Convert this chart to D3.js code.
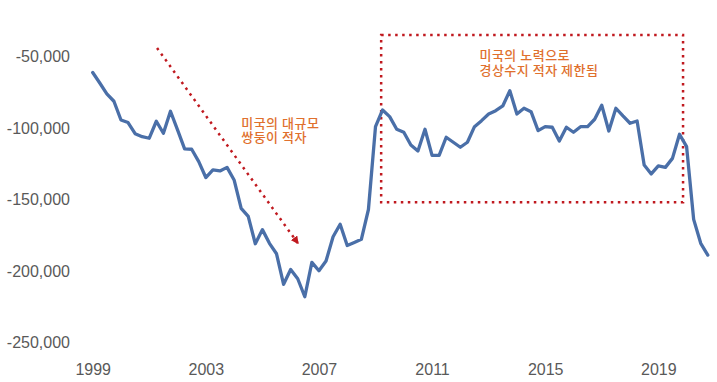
<!DOCTYPE html>
<html>
<head>
<meta charset="utf-8">
<script src="https://cdn.jsdelivr.net/npm/d3@7"></script>
<style>
  body { margin: 0; background: #fff; }
  #chart { width: 717px; height: 382px; }
</style>
</head>
<body>
<div id="chart"></div>
<script>
const width = 717;
const height = 382;

// quarters 1999Q1 - 2020Q4
const years = d3.range(1999, 2021);
const quarters = years.flatMap(y => [1, 2, 3, 4].map(q => `${y}Q${q}`));

// current account balance (quarterly)
const values = [
  -61100, -68400, -76000, -81200, -94300, -96100, -103900, -106000,
  -107100, -95200, -103600, -88200, -101300, -114600, -114800, -123500,
  -134600, -129300, -130000, -127500, -136300, -156200, -161800, -181000,
  -171100, -180700, -188000, -209400, -199000, -205500, -218100, -194000,
  -199900, -193100, -176100, -167300, -182200, -180100, -177900, -157000,
  -99000, -87300, -92000, -100800, -102900, -111800, -116000, -100800,
  -119100, -119100, -106400, -109900, -113400, -109900, -99000, -94800,
  -90100, -87800, -84500, -73800, -90100, -86100, -88500, -101800,
  -99000, -99400, -109000, -99400, -102900, -99000, -99000, -93800,
  -84000, -102000, -86100, -91500, -96600, -95000, -125800, -132100,
  -126500, -127500, -121200, -104300, -113000, -163900, -180700, -188900
];

const yTicks = [-250000, -200000, -150000, -100000, -50000];
const xTickLabels = ["1999", "2003", "2007", "2011", "2015", "2019"];

// annotations in data units (quarter index, value)
const arrowNote = { from: [9.1, -43900], to: [29.0, -180500] };
const boxNote = { i0: 40.8, i1: 83.5, v0: -34800, v1: -152000 };
const textNotes = [
  { lines: ["미국의 대규모", "쌍둥이 적자"], i: 21.0, v: -100000, lh: 14 },
  { lines: ["미국의 노력으로", "경상수지 적자 제한됨"], i: 54.7, v: -52300, lh: 15 }
];

const svg = d3.select("#chart")
  .append("svg")
  .attr("width", width)
  .attr("height", height)
  .style("display", "block");

const x = d3.scaleLinear()
  .domain([0, quarters.length - 1])
  .range([92.7, 707.8]);

const y = d3.scaleLinear()
  .domain([-250000, -50000])
  .range([342.3, 56.7]);

const fmt = d => d3.format(",")(d).replace("\u2212", "-");

// Y axis
const yAxis = svg.append("g")
  .attr("transform", "translate(70,0)")
  .call(d3.axisLeft(y).tickValues(yTicks).tickFormat(fmt).tickSize(0).tickPadding(0));
yAxis.select(".domain").remove();
yAxis.selectAll("text")
  .attr("fill", "#595959")
  .style("font-family", "'Liberation Sans', Arial, sans-serif")
  .style("font-size", "16px");

// X axis
const tickIdx = xTickLabels.map(l => quarters.indexOf(`${l}Q1`));
const xAxis = svg.append("g")
  .attr("transform", "translate(0,363.5)")
  .call(d3.axisBottom(x).tickValues(tickIdx)
    .tickFormat((d, i) => xTickLabels[i]).tickSize(0).tickPadding(0));
xAxis.select(".domain").remove();
xAxis.selectAll("text")
  .attr("fill", "#595959")
  .style("font-family", "'Liberation Sans', Arial, sans-serif")
  .style("font-size", "16px");

const red = "#c0191f";

// dotted box
svg.append("rect")
  .attr("x", x(boxNote.i0))
  .attr("y", y(boxNote.v0))
  .attr("width", x(boxNote.i1) - x(boxNote.i0))
  .attr("height", y(boxNote.v1) - y(boxNote.v0))
  .attr("fill", "none")
  .attr("stroke", red)
  .attr("stroke-width", 2.5)
  .attr("stroke-dasharray", "2.5,4.5");

// line
const line = d3.line()
  .x((d, i) => x(i))
  .y(d => y(d));

svg.append("path")
  .datum(values)
  .attr("d", line)
  .attr("fill", "none")
  .attr("stroke", "#4a6fa8")
  .attr("stroke-width", 3.3)
  .attr("stroke-linejoin", "round")
  .attr("stroke-linecap", "round");

// dotted arrow
svg.append("defs").append("marker")
  .attr("id", "head")
  .attr("viewBox", "0 0 10 10")
  .attr("refX", 8)
  .attr("refY", 5)
  .attr("markerWidth", 8)
  .attr("markerHeight", 8)
  .attr("markerUnits", "userSpaceOnUse")
  .attr("orient", "auto")
  .append("path")
  .attr("d", "M0,0 L10,5 L0,10 Z")
  .attr("fill", red);

svg.append("line")
  .attr("x1", x(arrowNote.from[0]))
  .attr("y1", y(arrowNote.from[1]))
  .attr("x2", x(arrowNote.to[0]))
  .attr("y2", y(arrowNote.to[1]))
  .attr("stroke", red)
  .attr("stroke-width", 2.5)
  .attr("stroke-dasharray", "2.5,4.5")
  .attr("marker-end", "url(#head)");

// annotation texts
textNotes.forEach(n => {
  const t = svg.append("text")
    .attr("x", x(n.i))
    .attr("y", y(n.v))
    .attr("fill", "#e0702d")
    .style("font-family", "'Noto Sans CJK KR', sans-serif")
    .style("font-size", "13px")
    .style("font-weight", "500")
    .style("letter-spacing", "0.5px");
  n.lines.forEach((l, k) => {
    t.append("tspan")
      .attr("x", x(n.i))
      .attr("dy", k === 0 ? 0 : n.lh)
      .text(l);
  });
});
</script>
</body>
</html>
